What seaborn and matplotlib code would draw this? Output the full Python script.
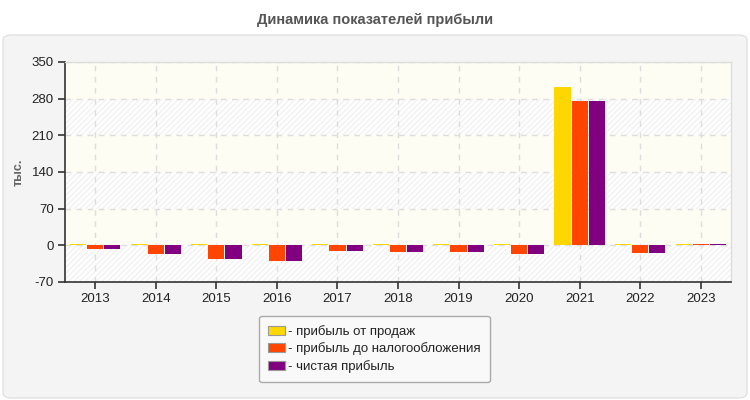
import matplotlib
matplotlib.use("Agg")
import matplotlib.pyplot as plt
from matplotlib.patches import FancyBboxPatch
import seaborn as sns
import pandas as pd

years = ["2013", "2014", "2015", "2016", "2017", "2018", "2019", "2020", "2021", "2022", "2023"]
sales_profit = [3, 3, 3, 3, 3, 3, 3, 3, 302, 3, 3]
pretax_profit = [-7, -17, -27, -30, -11, -13, -13, -17, 275, -15, 3]
net_profit = [-7, -17, -27, -30, -11, -13, -13, -17, 275, -15, 3]
series_names = ["прибыль от продаж", "прибыль до налогообложения", "чистая прибыль"]
colors = ["#FFD700", "#FF4500", "#800080"]
yticks = [-70, 0, 70, 140, 210, 280, 350]

df = pd.DataFrame({
    "year": years * 3,
    "value": sales_profit + pretax_profit + net_profit,
    "series": [series_names[0]] * 11 + [series_names[1]] * 11 + [series_names[2]] * 11,
})

sns.set_theme(style="white")
plt.rcParams["font.family"] = ["Liberation Sans", "DejaVu Sans"]
plt.rcParams["hatch.linewidth"] = 0.8

fig = plt.figure(figsize=(7.5, 4.0), dpi=100)
fig.patch.set_facecolor("white")

panel = FancyBboxPatch((3 / 750, 2 / 400), 744 / 750, 363 / 400,
                       boxstyle="round,pad=0,rounding_size=0.012",
                       transform=fig.transFigure, facecolor="#f4f4f4",
                       edgecolor="#e2e2e2", linewidth=1, zorder=-10)
fig.patches.append(panel)

ax = fig.add_axes([65 / 750, 1 - 282 / 400, (731 - 65) / 750, (282 - 62) / 400])
ax.set_zorder(1)
ax.set_facecolor("white")

# alternating background bands
for i, (lo, hi) in enumerate(zip(yticks[:-1], yticks[1:])):
    if (len(yticks) - 2 - i) % 2 == 0:
        ax.axhspan(lo, hi, facecolor="#fdfdf4", edgecolor="none", zorder=0)
    else:
        ax.axhspan(lo, hi, facecolor="#fefefe", edgecolor="#f0f0f0", hatch="//////",
                   linewidth=0, zorder=0)

sns.barplot(data=df, x="year", y="value", hue="series", palette=colors,
            width=0.85, gap=0.06, ax=ax, saturation=1, legend=True, zorder=3,
            edgecolor="none")

ax.set_xlim(-0.5, 10.5)
ax.set_ylim(-70, 350)
ax.set_yticks(yticks)
ax.set_yticklabels([str(v) for v in yticks])
ax.set_xlabel("")
ax.set_ylabel("тыс.", color="#666666", fontsize=9, fontweight="bold", labelpad=5)

ax.grid(True, axis="both", color="#dddddd", linestyle=(0, (4, 4)), linewidth=1)
ax.set_axisbelow(True)
for s in ["left", "bottom"]:
    ax.spines[s].set_color("#333333")
    ax.spines[s].set_linewidth(1.2)
for s in ["top", "right"]:
    ax.spines[s].set_color("#dddddd")
    ax.spines[s].set_linewidth(1)
ax.tick_params(axis="both", which="major", length=5, width=1.2, color="#333333",
               labelsize=9.5, labelcolor="#222222", left=True, bottom=True, pad=3)

handles, labels = ax.get_legend_handles_labels()
ax.get_legend().remove()
for h in handles:
    h.set_edgecolor("#999999")
    h.set_linewidth(0.8)
leg = fig.legend(handles, ["- " + l for l in labels], loc="center",
                 bbox_to_anchor=(374.5 / 750, 1 - 349 / 400), fontsize=9.5,
                 frameon=True, fancybox=True, facecolor="#f9f9f9", edgecolor="#aaaaaa",
                 handlelength=1.3, handleheight=0.7, handletextpad=0.2,
                 labelspacing=0.35, borderpad=0.7, framealpha=1)
leg.get_frame().set_linewidth(1)
for t in leg.get_texts():
    t.set_color("#222222")

fig.text(0.5, 1 - 20 / 400, "Динамика показателей прибыли", ha="center", va="center",
         fontsize=10.5, fontweight="bold", color="#555555")

fig.savefig("out.png", dpi=100)
